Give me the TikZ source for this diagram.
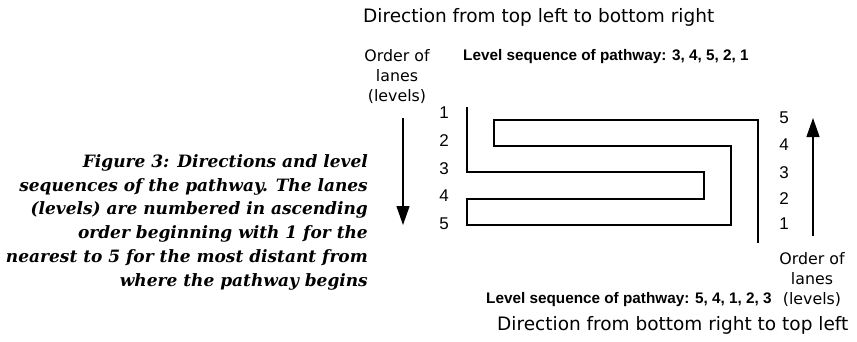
\documentclass[tikz,border=0pt]{standalone}
\usepackage{fontspec}
\usetikzlibrary{arrows.meta}
\newfontfamily\verd{DejaVu Sans}
\newfontfamily\arialf{Liberation Sans}
\newfontfamily\capf{DejaVu Serif}
\tikzset{
  dirtext/.style={anchor=west,inner sep=0pt,font=\verd\fontsize{18.5}{21}\selectfont},
  ordtext/.style={align=center,inner sep=0pt,font=\verd\fontsize{15.8}{20}\selectfont},
  seqtext/.style={anchor=west,inner sep=0pt,font=\arialf\bfseries\fontsize{15.3}{18}\selectfont},
  numtext/.style={inner sep=0pt,font=\arialf\fontsize{17}{18}\selectfont},
  captext/.style={anchor=east,inner sep=0pt,font=\capf\bfseries\itshape\fontsize{17}{24}\selectfont},
  lanepath/.style={line width=1.6pt,line join=miter},
  orderarrow/.style={line width=1.2pt,-{Triangle[width=13pt,length=19pt]}}
}
\begin{document}
\begin{tikzpicture}[x=1pt,y=-1pt]
\useasboundingbox (0,0) rectangle (857,341);
% titles
\node[dirtext] (dtop) at (363,17) {Direction from top left to bottom right};
\node[dirtext] (dbot) at (497,325) {Direction from bottom right to top left};
\node[seqtext] (stop) at (463,57) {Level sequence of pathway: 3, 4, 5, 2, 1};
\node[seqtext] (sbot) at (486,300) {Level sequence of pathway: 5, 4, 1, 2, 3};
\node[ordtext] (otop) at (397,77) {Order of\\lanes\\(levels)};
\node[ordtext] (obot) at (812,280) {Order of\\lanes\\(levels)};
% arrows
\coordinate (la1) at (403,118);
\coordinate (la2) at (403,225);
\coordinate (ra1) at (813,236);
\coordinate (ra2) at (813,118);
\draw[orderarrow] (la1) -- (la2);
\draw[orderarrow] (ra1) -- (ra2);
% numbers
\node[numtext] (l1) at (444,113) {1};
\node[numtext] (l2) at (444,141) {2};
\node[numtext] (l3) at (444,169) {3};
\node[numtext] (l4) at (444,196) {4};
\node[numtext] (l5) at (444,224) {5};
\node[numtext] (r5) at (784,118) {5};
\node[numtext] (r4) at (784,145) {4};
\node[numtext] (r3) at (784,173) {3};
\node[numtext] (r2) at (784,199) {2};
\node[numtext] (r1) at (784,224) {1};
% pathway
\draw[lanepath] (467,107) -- (467,172) -- (704,172) -- (704,199) -- (467,199)
  -- (467,225) -- (731,225) -- (731,146) -- (494,146) -- (494,120)
  -- (758,120) -- (758,243);
% caption
\node[captext] (c1) at (368,163) {Figure 3: Directions and level};
\node[captext] (c2) at (368,187) {sequences of the pathway. The lanes};
\node[captext] (c3) at (368,210) {(levels) are numbered in ascending};
\node[captext] (c4) at (368,234) {order beginning with 1 for the};
\node[captext] (c5) at (368,258) {nearest to 5 for the most distant from};
\node[captext] (c6) at (368,282) {where the pathway begins};
\end{tikzpicture}
\end{document}
